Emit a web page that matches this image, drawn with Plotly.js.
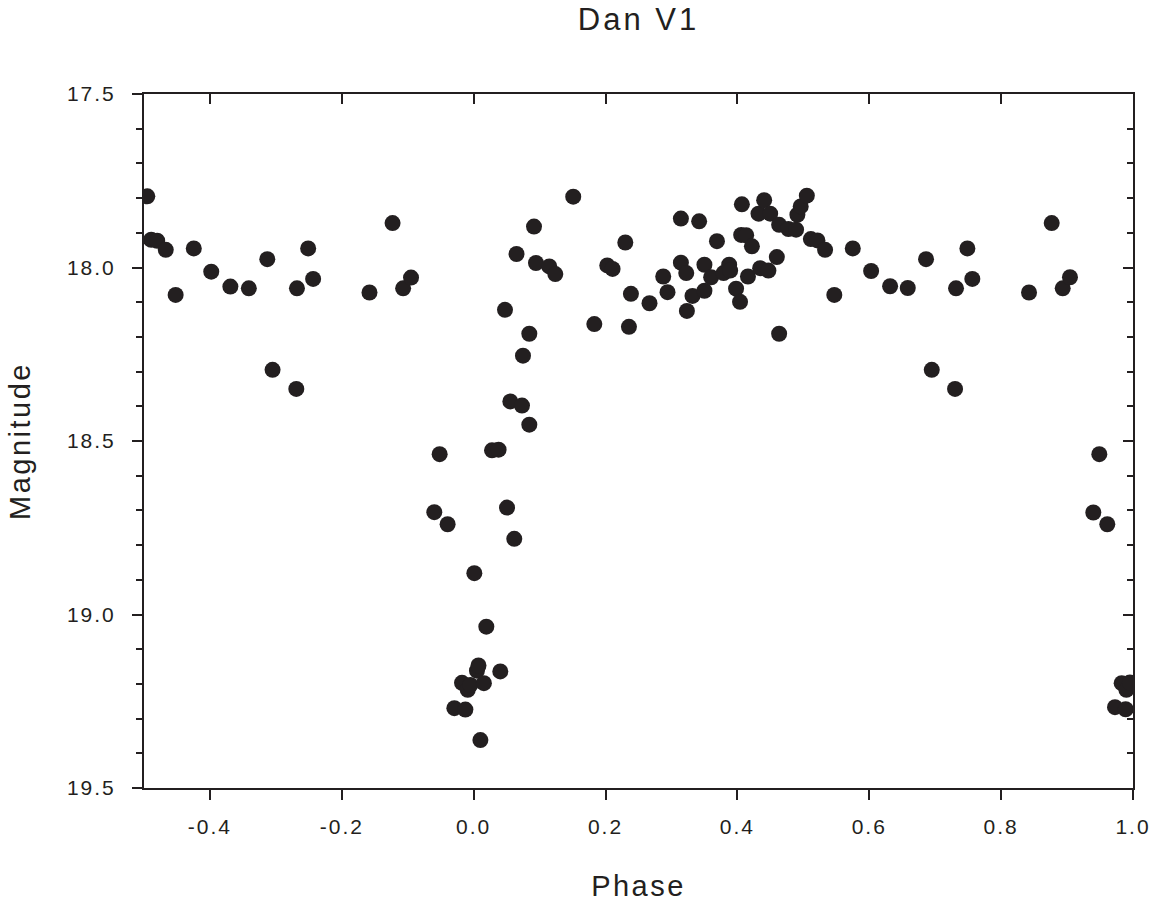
<!DOCTYPE html>
<html>
<head>
<meta charset="utf-8">
<script src="https://cdn.plot.ly/plotly-3.0.1.min.js"></script>
<style>
  html, body { margin: 0; padding: 0; background: #fff; }
  #chart { width: 1161px; height: 902px; }
  #chart .gtitle { letter-spacing: 3px; }
  #chart .xtitle, #chart .ytitle { letter-spacing: 2.5px; }
  #chart .xtick text, #chart .ytick text { letter-spacing: 2px; }
</style>
</head>
<body>
<div id="chart"></div>
<script>
// Phase / magnitude readings, grouped by part of the light curve
const phaseWestWing = [-0.495, -0.489, -0.480, -0.467, -0.452, -0.4245, -0.398, -0.369, -0.341, -0.313, -0.305, -0.269, -0.268, -0.251, -0.2435, -0.158, -0.123, -0.107, -0.095];
const magWestWing   = [17.795, 17.920, 17.923, 17.949, 18.079, 17.945, 18.012, 18.055, 18.060, 17.976, 18.295, 18.350, 18.060, 17.945, 18.033, 18.072, 17.872, 18.060, 18.029];

const phaseEclipse = [-0.0597, -0.0516, -0.0395, -0.0293, -0.0177, -0.0126, -0.009, -0.005, 0.001, 0.005, 0.0073, 0.0102, 0.0155, 0.0192, 0.0278, 0.0378, 0.0404, 0.0475, 0.0506, 0.0556, 0.0616, 0.065, 0.0733, 0.0748, 0.0844, 0.0844, 0.0915, 0.0945, 0.1147, 0.1238];
const magEclipse   = [18.705, 18.538, 18.740, 19.270, 19.197, 19.274, 19.217, 19.203, 18.881, 19.162, 19.147, 19.362, 19.198, 19.035, 18.527, 18.525, 19.164, 18.122, 18.692, 18.386, 18.782, 17.961, 18.398, 18.254, 18.191, 18.453, 17.882, 17.987, 17.997, 18.019];

const phaseMaximum = [0.151, 0.183, 0.2026, 0.2107, 0.23, 0.2355, 0.2385, 0.2667, 0.2875, 0.294, 0.3143, 0.3143, 0.3224, 0.3234, 0.3319, 0.342, 0.35, 0.35, 0.3602, 0.369, 0.379, 0.3875, 0.389, 0.398, 0.404, 0.4068, 0.4057, 0.4133, 0.416, 0.422, 0.432, 0.4345, 0.4406, 0.447, 0.4497, 0.4598, 0.4633, 0.4633, 0.4774, 0.489, 0.491, 0.496];
const magMaximum   = [17.796, 18.163, 17.994, 18.004, 17.928, 18.171, 18.076, 18.103, 18.026, 18.071, 17.859, 17.986, 18.016, 18.125, 18.082, 17.867, 17.992, 18.067, 18.028, 17.924, 18.016, 17.992, 18.009, 18.061, 18.099, 17.818, 17.906, 17.907, 18.026, 17.939, 17.845, 18.002, 17.806, 18.009, 17.845, 17.970, 17.877, 18.191, 17.889, 17.891, 17.848, 17.824];

const phaseEastWing = [0.5053, 0.5114, 0.5214, 0.533, 0.547, 0.575, 0.6028, 0.6316, 0.6584, 0.6861, 0.6948, 0.7301, 0.7316, 0.7488, 0.7563, 0.8423, 0.8767, 0.8934, 0.9044, 0.9398, 0.9489, 0.961, 0.9727, 0.9828, 0.9888, 0.99, 0.9953];
const magEastWing   = [17.793, 17.918, 17.922, 17.949, 18.079, 17.945, 18.010, 18.054, 18.059, 17.976, 18.295, 18.350, 18.060, 17.945, 18.033, 18.072, 17.872, 18.060, 18.028, 18.706, 18.538, 18.740, 19.267, 19.198, 19.273, 19.217, 19.196];

const xTickVals = [-0.4, -0.2, 0.0, 0.2, 0.4, 0.6, 0.8, 1.0];
const xTickText = ['-0.4', '-0.2', '0.0', '0.2', '0.4', '0.6', '0.8', '1.0'];
const yTickVals = [17.5, 18.0, 18.5, 19.0, 19.5];
const yTickText = ['17.5', '18.0', '18.5', '19.0', '19.5'];

const phase = [].concat(phaseWestWing, phaseEclipse, phaseMaximum, phaseEastWing);
const mag = [].concat(magWestWing, magEclipse, magMaximum, magEastWing);

const ink = '#231f20';
const fontFam = 'Liberation Sans, Arial, sans-serif';

const traces = [
  {
    x: phase, y: mag, type: 'scatter', mode: 'markers',
    marker: { size: 16, color: ink, line: { width: 0 } },
    hoverinfo: 'x+y', showlegend: false
  },
  {
    x: [null], y: [null], type: 'scatter', mode: 'markers',
    xaxis: 'x2', yaxis: 'y2', showlegend: false, hoverinfo: 'skip'
  }
];

const layout = {
  width: 1161, height: 902,
  margin: { l: 144, r: 28, t: 94, b: 114 },
  paper_bgcolor: '#fff', plot_bgcolor: '#fff',
  font: { family: fontFam, color: ink, size: 21 },
  title: {
    text: 'Dan V1', x: 0.5, xref: 'paper', xanchor: 'center',
    y: 1 - 19 / 902, yref: 'container', yanchor: 'middle',
    font: { family: fontFam, size: 31, color: ink }
  },
  xaxis: {
    range: [-0.5, 1.0], tickmode: 'array', tickvals: xTickVals, ticktext: xTickText,
    ticks: 'outside', ticklen: 10, tickwidth: 1.5, tickcolor: ink,
    showline: true, linewidth: 2, linecolor: ink, mirror: false,
    showgrid: false, zeroline: false,
    tickfont: { family: fontFam, size: 21, color: ink },
    ticklabelstandoff: 9,
    title: { text: 'Phase', standoff: 38, font: { family: fontFam, size: 29, color: ink } }
  },
  xaxis2: {
    range: [-0.5, 1.0], overlaying: 'x', anchor: 'y', side: 'top',
    tickmode: 'array', tickvals: xTickVals,
    ticks: 'inside', ticklen: 10, tickwidth: 1.5, tickcolor: ink,
    showline: true, linewidth: 2, linecolor: ink,
    showticklabels: false, showgrid: false, zeroline: false
  },
  yaxis: {
    range: [19.5, 17.5], tickmode: 'array', tickvals: yTickVals, ticktext: yTickText,
    ticks: 'outside', ticklen: 10, tickwidth: 1.5, tickcolor: ink,
    minor: { dtick: 0.1, tick0: 17.5, ticks: 'outside', ticklen: 6, tickwidth: 1.5, tickcolor: ink, showgrid: false },
    showline: true, linewidth: 2, linecolor: ink, mirror: false,
    showgrid: false, zeroline: false,
    tickfont: { family: fontFam, size: 21, color: ink },
    ticklabelstandoff: 12,
    title: { text: 'Magnitude', standoff: 36, font: { family: fontFam, size: 29, color: ink } }
  },
  yaxis2: {
    range: [19.5, 17.5], overlaying: 'y', anchor: 'x', side: 'right',
    tickmode: 'array', tickvals: yTickVals,
    ticks: 'inside', ticklen: 10, tickwidth: 1.5, tickcolor: ink,
    minor: { dtick: 0.1, tick0: 17.5, ticks: 'inside', ticklen: 6, tickwidth: 1.5, tickcolor: ink, showgrid: false },
    showline: true, linewidth: 2, linecolor: ink,
    showticklabels: false, showgrid: false, zeroline: false
  }
};

Plotly.newPlot('chart', traces, layout, { displayModeBar: false, staticPlot: false });
</script>
</body>
</html>
